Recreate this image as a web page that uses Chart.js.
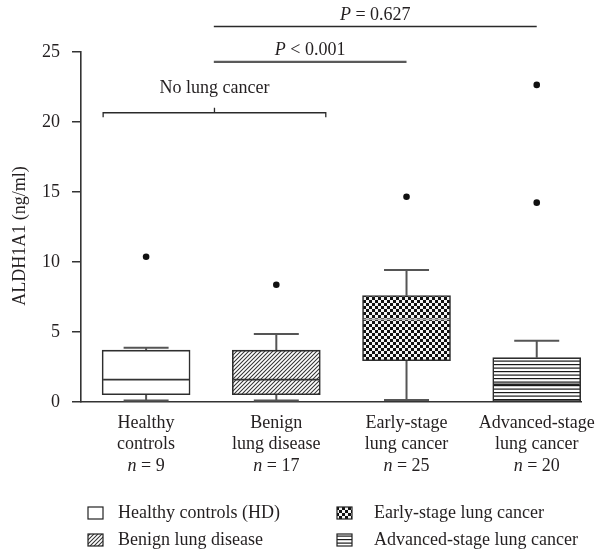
<!DOCTYPE html>
<html>
<head>
<meta charset="utf-8">
<script src="https://cdn.jsdelivr.net/npm/chart.js@4.4.1/dist/chart.umd.min.js"></script>
<style>
  html, body { margin: 0; padding: 0; background: #fff; overflow: hidden; }
  #wrap { width: 597px; height: 553px; }
</style>
</head>
<body>
<div id="wrap"><canvas id="c" width="597" height="553"></canvas></div>
<script>
// ---- data ----
const groupLines = [['Healthy', 'controls'], ['Benign', 'lung disease'], ['Early-stage', 'lung cancer'], ['Advanced-stage', 'lung cancer']];
const groupN = [9, 17, 25, 20];
const legendNames = ['Healthy controls (HD)', 'Benign lung disease', 'Early-stage lung cancer', 'Advanced-stage lung cancer'];
const whiskerLow = [0.1, 0.1, 0.14, 0.03];
const q1 = [0.52, 0.52, 2.95, 0.03];
const median = [1.6, 1.6, 5.9, 1.26];
const q3 = [3.7, 3.7, 7.6, 3.17];
const whiskerHigh = [3.88, 4.86, 9.43, 4.38];
const outliers = [[10.38], [8.38], [14.66], [14.24, 22.65]];
const yTicks = [0, 5, 10, 15, 20, 25];
const yTitle = 'ALDH1A1 (ng/ml)';
const groupLabel = 'No lung cancer';
const pLabels = ['= 0.627', '< 0.001'];

const FONT = '"Liberation Serif", "Times New Roman", serif';
const INK = '#231f20';

// ---- fill patterns ----
function makePattern(size, draw) {
  const c = document.createElement('canvas');
  c.width = size; c.height = size;
  const g = c.getContext('2d');
  draw(g, size);
  return g.createPattern(c, 'repeat');
}
const patEmpty = '#ffffff';
const patHatch = makePattern(4, (g, s) => {
  g.fillStyle = '#fff'; g.fillRect(0, 0, s, s);
  g.strokeStyle = '#333'; g.lineWidth = 1.05;
  g.beginPath();
  g.moveTo(-1, s + 1); g.lineTo(s + 1, -1);
  g.moveTo(-1, 1); g.lineTo(1, -1);
  g.moveTo(s - 1, s + 1); g.lineTo(s + 1, s - 1);
  g.stroke();
});
const patChecker = makePattern(6, (g, s) => {
  g.fillStyle = '#111'; g.fillRect(0, 0, s, s);
  g.fillStyle = '#f4f4f4';
  g.fillRect(0, 0, 3, 3); g.fillRect(3, 3, 3, 3);
});
const patStripes = makePattern(7, (g, s) => {
  g.fillStyle = '#fff'; g.fillRect(0, 0, s, s);
  g.fillStyle = '#1a1a1a';
  g.fillRect(0, 0, s, 1.2); g.fillRect(0, 3.5, s, 1.2);
});
const fills = [patEmpty, patHatch, patChecker, patStripes];
const medianColors = ['#333', '#333', '#a8a8a8', '#222'];

// ---- extra drawing: whiskers, medians, labels, annotations, legend ----
const CAP_HALF = 22.5;
function line(ctx, x1, y1, x2, y2) {
  ctx.beginPath(); ctx.moveTo(x1, y1); ctx.lineTo(x2, y2); ctx.stroke();
}
function mixedText(ctx, italicPart, rest, cx, cy) {
  ctx.font = 'italic 18px ' + FONT;
  const w1 = ctx.measureText(italicPart).width;
  ctx.font = '18px ' + FONT;
  const w2 = ctx.measureText(rest).width;
  const x0 = cx - (w1 + w2) / 2;
  ctx.textAlign = 'left'; ctx.textBaseline = 'middle';
  ctx.font = 'italic 18px ' + FONT;
  ctx.fillText(italicPart, x0, cy);
  ctx.font = '18px ' + FONT;
  ctx.fillText(rest, x0 + w1, cy);
}

const boxParts = {
  id: 'boxParts',
  beforeDatasetsDraw(chart) {
    const { ctx, scales: { x, y } } = chart;
    ctx.save();
    ctx.strokeStyle = '#555'; ctx.lineWidth = 2;
    for (let i = 0; i < q1.length; i++) {
      const cx = x.getPixelForValue(i + 1);
      const yh = y.getPixelForValue(whiskerHigh[i]);
      line(ctx, cx, y.getPixelForValue(q3[i]), cx, yh);
      line(ctx, cx - CAP_HALF, yh, cx + CAP_HALF, yh);
      if (whiskerLow[i] < q1[i]) {
        const yl = y.getPixelForValue(whiskerLow[i]);
        line(ctx, cx, y.getPixelForValue(q1[i]), cx, yl);
        line(ctx, cx - CAP_HALF, yl, cx + CAP_HALF, yl);
      }
    }
    ctx.restore();
  },
  afterDatasetsDraw(chart) {
    const { ctx, scales: { y } } = chart;
    const meta = chart.getDatasetMeta(0);
    ctx.save();
    ctx.lineWidth = 1.6;
    for (let i = 0; i < median.length; i++) {
      const bar = meta.data[i];
      const ym = y.getPixelForValue(median[i]);
      ctx.strokeStyle = medianColors[i];
      line(ctx, bar.x - bar.width / 2 + 1, ym, bar.x + bar.width / 2 - 1, ym);
    }
    ctx.restore();
  },
  afterDraw(chart) {
    const { ctx, scales: { x, y } } = chart;
    ctx.save();
    ctx.fillStyle = INK;

    // category labels under the axis
    for (let i = 0; i < groupLines.length; i++) {
      const cx = x.getPixelForValue(i + 1);
      ctx.font = '18px ' + FONT;
      ctx.textAlign = 'center'; ctx.textBaseline = 'middle';
      ctx.fillText(groupLines[i][0], cx, 423);
      ctx.fillText(groupLines[i][1], cx, 444);
      mixedText(ctx, 'n', ' = ' + groupN[i], cx, 466);
    }

    // y title
    ctx.save();
    ctx.translate(20, 236);
    ctx.rotate(-Math.PI / 2);
    ctx.font = '18px ' + FONT;
    ctx.textAlign = 'center'; ctx.textBaseline = 'middle';
    ctx.fillText(yTitle, 0, 0);
    ctx.restore();

    // significance bars
    const bars = [
      { from: 1.52, to: 4.0, at: 26.82, color: '#2a2a2a', w: 1.5, text: pLabels[0] },
      { from: 1.52, to: 3.0, at: 24.29, color: '#5a5a5a', w: 2.2, text: pLabels[1] }
    ];
    bars.forEach(b => {
      const x1 = x.getPixelForValue(b.from), x2 = x.getPixelForValue(b.to);
      const yy = y.getPixelForValue(b.at);
      ctx.strokeStyle = b.color; ctx.lineWidth = b.w;
      line(ctx, x1, yy, x2, yy);
      ctx.fillStyle = INK;
      mixedText(ctx, 'P', ' ' + b.text, (x1 + x2) / 2, yy - 11.5);
    });

    // bracket grouping the two non-cancer groups
    const bx1 = x.getPixelForValue(0.67), bx2 = x.getPixelForValue(2.38);
    const by = y.getPixelForValue(20.66);
    const bc = (bx1 + bx2) / 2;
    ctx.strokeStyle = '#2a2a2a'; ctx.lineWidth = 1.3;
    ctx.beginPath();
    ctx.moveTo(bx1, by + 4.5); ctx.lineTo(bx1, by); ctx.lineTo(bx2, by); ctx.lineTo(bx2, by + 4.5);
    ctx.moveTo(bc, by); ctx.lineTo(bc, by - 5);
    ctx.stroke();
    ctx.font = '18px ' + FONT;
    ctx.textAlign = 'center'; ctx.textBaseline = 'middle';
    ctx.fillText(groupLabel, bc, by - 24.5);

    // legend, two columns
    const cols = [{ sw: 88, tx: 118 }, { sw: 337, tx: 374 }];
    const rows = [513, 540];
    const order = [[0, 0, 0], [1, 0, 1], [2, 1, 0], [3, 1, 1]];
    order.forEach(([k, c, r]) => {
      const sx = cols[c].sw, sy = rows[r] - 6;
      ctx.fillStyle = fills[k];
      ctx.fillRect(sx, sy, 15, 12);
      ctx.strokeStyle = '#222'; ctx.lineWidth = 1.2;
      ctx.strokeRect(sx, sy, 15, 12);
      ctx.fillStyle = INK;
      ctx.font = '18px ' + FONT;
      ctx.textAlign = 'left'; ctx.textBaseline = 'middle';
      ctx.fillText(legendNames[k], cols[c].tx, rows[r]);
    });
    ctx.restore();
  }
};

// ---- chart ----
const boxData = q1.map((v, i) => ({ x: i + 1, y: [v, q3[i]] }));
const outlierData = [];
outliers.forEach((list, i) => list.forEach(v => outlierData.push({ x: i + 1, y: v })));

new Chart(document.getElementById('c'), {
  type: 'bar',
  data: {
    datasets: [
      {
        type: 'bar',
        data: boxData,
        backgroundColor: fills,
        borderColor: '#2e2e2e',
        borderWidth: 1.6,
        borderSkipped: false,
        barThickness: 88,
        order: 2
      },
      {
        type: 'scatter',
        data: outlierData,
        backgroundColor: '#111',
        borderColor: '#111',
        pointRadius: 3.3,
        borderWidth: 0,
        order: 1
      }
    ]
  },
  options: {
    responsive: false,
    animation: false,
    devicePixelRatio: 1,
    layout: { padding: { top: 52, right: 16, left: 0, bottom: 0 } },
    plugins: { legend: { display: false }, tooltip: { enabled: false } },
    scales: {
      x: {
        type: 'linear',
        min: 0.5,
        max: 4.34,
        offset: false,
        ticks: { display: false },
        grid: { display: false },
        border: { display: true, color: '#333', width: 1.6 },
        afterFit(s) { s.height = 151; }
      },
      y: {
        min: 0,
        max: 25,
        afterBuildTicks(s) { s.ticks = yTicks.map(v => ({ value: v })); },
        ticks: { font: { family: FONT, size: 18 }, color: INK, padding: 12 },
        grid: { drawOnChartArea: false, drawTicks: true, tickLength: 9, color: '#333', lineWidth: 1.5 },
        border: { display: true, color: '#333', width: 1.6 },
        afterFit(s) { s.width = 81; }
      }
    }
  },
  plugins: [boxParts]
});
</script>
</body>
</html>
